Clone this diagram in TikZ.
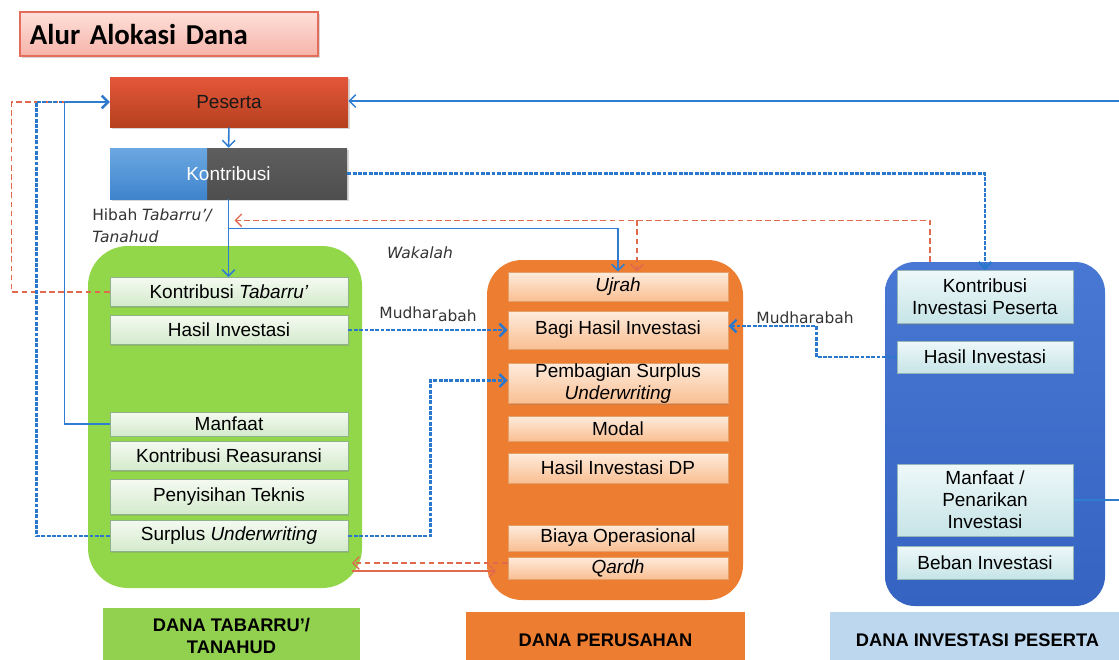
\documentclass[tikz,border=0pt]{standalone}
\usepackage{fontspec}
\setmainfont{Liberation Sans}
\newfontfamily\lblfont{DejaVu Sans}
\newfontfamily\ttlfont{Carlito}
\usepackage{xcolor}
\usetikzlibrary{positioning,calc,arrows.meta,shadows}
\definecolor{grn}{HTML}{92D74A}
\definecolor{grntag}{HTML}{92D050}
\definecolor{org}{HTML}{ED7D31}
\definecolor{ptop}{HTML}{4878D3}
\definecolor{pbot}{HTML}{3463C2}
\definecolor{ltblue}{HTML}{BDD7EE}
\definecolor{gtop}{HTML}{F4FAF1}
\definecolor{gbot}{HTML}{D3EACB}
\definecolor{gedge}{HTML}{8FB28A}
\definecolor{otop}{HTML}{FEEBDC}
\definecolor{obot}{HTML}{F9BF92}
\definecolor{oedge}{HTML}{E3A06A}
\definecolor{btop}{HTML}{EEF8F9}
\definecolor{bbot}{HTML}{C6E4E7}
\definecolor{bedge}{HTML}{93B4B8}
\definecolor{ttop}{HTML}{FDE0DA}
\definecolor{tbot}{HTML}{F6B3A8}
\definecolor{tedge}{HTML}{E36C5A}
\definecolor{rtop}{HTML}{E4563A}
\definecolor{rbot}{HTML}{B5411F}
\definecolor{kgray}{HTML}{5E5E5E}
\definecolor{kgray2}{HTML}{4E4E4E}
\definecolor{kb1}{HTML}{6CA8E2}
\definecolor{kb2}{HTML}{3E84CC}
\definecolor{cblue}{HTML}{2E7DD1}
\definecolor{dblue}{HTML}{2A78CE}
\definecolor{cred}{HTML}{E0694E}
\definecolor{lblgray}{HTML}{333333}

\begin{document}
\begin{tikzpicture}[x=0.025cm,y=-0.025cm,
  sz/.style 2 args={minimum width=#1*0.025cm,minimum height=#2*0.025cm},
  ibox/.style={draw,line width=0.7pt,inner sep=0pt,align=center,
    font=\fontsize{13.5}{15.5}\selectfont,
    drop shadow={opacity=0.3,shadow xshift=1pt,shadow yshift=-1pt}},
  gbox/.style={ibox,draw=gedge,top color=gtop,bottom color=gbot,sz={238}{#1}},
  obox/.style={ibox,draw=oedge,top color=otop,bottom color=obot,sz={220}{#1}},
  ubox/.style={ibox,draw=bedge,top color=btop,bottom color=bbot,sz={176}{#1}},
  fundtag/.style={inner sep=0pt,align=center,font=\fontsize{13}{15.5}\selectfont\bfseries},
  lbl/.style={inner sep=0pt,text=lblgray,font=\lblfont\fontsize{11}{16}\selectfont},
  bline/.style={line width=1.1pt,draw=cblue},
  bdot/.style={line width=1.7pt,draw=dblue,dash pattern=on 2.8pt off 1pt},
  rdash/.style={line width=0.9pt,draw=cred,dash pattern=on 4pt off 2.5pt},
  rline/.style={line width=0.8pt,draw=cred},
  >={Straight Barb[length=4.5pt,width=9pt]}]
\useasboundingbox (0,0) rectangle (1119,659);
\clip (0,0) rectangle (1119,659);
\fill[white] (0,0) rectangle (1119,659);

\node[draw=tedge,line width=0.8pt,top color=ttop,bottom color=tbot,
  text width=6.95cm,inner xsep=0.25cm,inner ysep=0pt,minimum height=1.1cm,align=left,
  drop shadow={opacity=0.3,shadow xshift=1.5pt,shadow yshift=-1.5pt},
  font=\ttlfont\bfseries\fontsize{20.5}{24}\selectfont] (title) at (169,34) {Alur Alokasi Dana};

\node[top color=rtop,bottom color=rbot,sz={238}{50},inner sep=0pt,text=black!90,
  font=\fontsize{13.5}{15.5}\selectfont,
  drop shadow={opacity=0.3,shadow xshift=1.5pt,shadow yshift=-1.5pt}] (peserta) at (229,102) {Peserta};
\node[top color=kgray,bottom color=kgray2,sz={237}{51},inner sep=0pt,text=white,
  font=\fontsize{13.5}{15.5}\selectfont,
  drop shadow={opacity=0.3,shadow xshift=1.5pt,shadow yshift=-1.5pt},
  path picture={\fill[top color=kb1,bottom color=kb2] (path picture bounding box.south west)
    rectangle ([xshift=2.425cm]path picture bounding box.north west);}] (kontribusi) at (228.5,173.5) {Kontribusi};

\node[fill=grn,sz={274}{342},rounded corners=1cm] (tabpanel) at (225,417) {};
\node[fill=org,sz={256}{340},rounded corners=0.875cm] (dppanel) at (615,430) {};
\node[top color=ptop,bottom color=pbot,sz={220}{344},rounded corners=0.75cm] (invpanel) at (995,434) {};

\foreach \nm/\yy/\hh/\tx in {ktab/292/29/{Kontribusi \textit{Tabarru'}},hasilT/330/29/Hasil Investasi,
    manfaat/424/24/Manfaat,reas/456/29/Kontribusi Reasuransi,teknis/497/35/Penyisihan Teknis,
    surplus/536/31/{Surplus \textit{Underwriting}}}
  \node[gbox=\hh] (\nm) at (229,\yy) {\tx};
\foreach \nm/\yy/\hh/\tx in {ujrah/286.5/29/\textit{Ujrah},bagi/330/38/Bagi Hasil Investasi,
    pemb/383.5/40/{Pembagian Surplus\\\textit{Underwriting}},modal/428.5/25/Modal,
    hidp/468/30/Hasil Investasi DP,biaya/538/26/Biaya Operasional,qardh/568/22/\textit{Qardh}}
  \node[obox=\hh] (\nm) at (618,\yy) {\tx};
\foreach \nm/\yy/\hh/\tx in {kip/297/53/{Kontribusi\\Investasi Peserta},hip/357/32/Hasil Investasi,
    mpi/500/72/{Manfaat /\\Penarikan\\Investasi},beban/562.5/33/Beban Investasi}
  \node[ubox=\hh] (\nm) at (985,\yy) {\tx};

\node[fundtag,fill=grntag,sz={257}{56}] (tagT) at (231.5,636) {DANA TABARRU'/\\TANAHUD};
\node[fundtag,fill=org,sz={279}{56}] (tagP) at (605.5,640) {DANA PERUSAHAN};
\node[fundtag,fill=ltblue,sz={295}{56}] (tagI) at (977.5,640) {DANA INVESTASI PESERTA};

\node[lbl,anchor=north west,align=left] (hibah) at (92,208) {Hibah \textit{Tabarru’/}\\\textit{Tanahud}};
\node[lbl] (wakalah) at (420,253) {\textit{Wakalah}};
\node[lbl] (mudhB) at (805,318) {Mudharabah};

\coordinate (wk) at ($(kontribusi.south)+(0,29)$);
\coordinate (hb) at ($(kontribusi.south)+(6,21)$);
\coordinate (rd) at ($(kip.north)+(-55,-8)$);
\coordinate (uj2) at ($(ujrah.north)+(19,0)$);
\coordinate (edgeR) at (1119,101);
\coordinate (qL) at (352,563);
\coordinate (qR) at (496,571);

\draw[bline,->] (peserta) -- (kontribusi);
\draw[bline,->] (kontribusi.south) -- (kontribusi.south |- ktab.north);
\draw[bline,->] (wk) -| (ujrah.north);
\draw[rdash,->] (rd) |- (hb);
\draw[rdash,->] (uj2 |- hb) -- (uj2);
\draw[bdot,->] (kontribusi.east) -| (kip.north);
\draw[bline,->] (edgeR) -- (peserta.east |- edgeR);
\draw[bline] (mpi.east) -- (mpi.east -| edgeR);

\draw[rdash,->] (ktab.west) -- ++(-98,0) |- (peserta.west);
\draw[bdot,->] (surplus.west) -- ++(-73,0) |- (peserta.west);
\draw[bline,->] (manfaat.west) -- ++(-45,0) |- (peserta.west);

\draw[bdot,->] (hasilT.east) -- (hasilT.east -| bagi.west)
  node[lbl,midway,above=5pt] {Mudhar\raisebox{-2pt}{abah}};
\draw[bdot,->] (hip.west) -- ++(-80,0) |- ($(bagi.east)+(0,-4)$);
\draw[bdot,->] (surplus.east) -- ++(82,0) |- ($(pemb.west)+(0,-3)$);

\draw[rdash,->] (qL -| qardh.west) -- (qL);
\draw[rline,->] (qL |- qR) -- (qR);
\end{tikzpicture}
\end{document}
